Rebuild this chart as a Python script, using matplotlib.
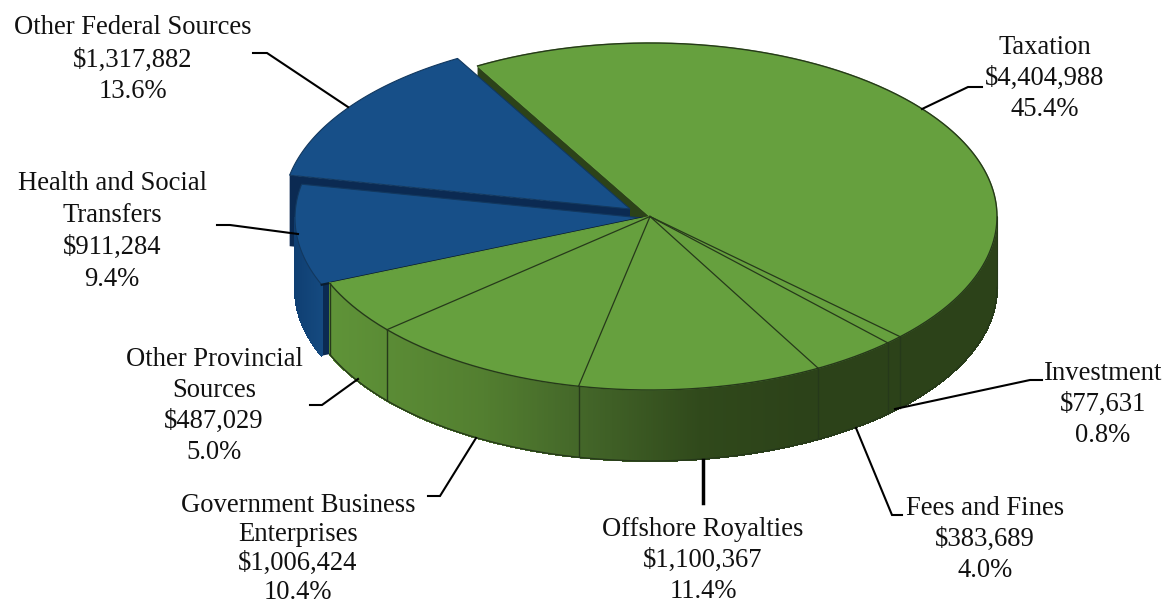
import matplotlib
matplotlib.use("Agg")
import matplotlib.pyplot as plt
import numpy as np

# revenue by source, clockwise from the top of the pie
sources = ["Taxation", "Investment", "Fees and Fines", "Offshore Royalties",
           "Government Business\nEnterprises", "Other Provincial\nSources",
           "Health and Social\nTransfers", "Other Federal Sources"]
amounts = [4404988, 77631, 383689, 1100367, 1006424, 487029, 911284, 1317882]
percents = [45.4, 0.8, 4.0, 11.4, 10.4, 5.0, 9.4, 13.6]

GREEN = "#66a03e"
BLUE = "#174f88"
NAVY = "#0b2a52"
DARK_GREEN = "#2c4219"
EDGE = "#26391a"

CX, CY = 650, 216.5
RX, RY = 347, 173.5
DEPTH = 71
START = 119.8

total = sum(amounts)
sweeps = [a / total * 360 for a in amounts]
ends = START - np.cumsum(sweeps)
starts = ends + np.array(sweeps)


def rim(cx, cy, a):
    a = np.radians(a)
    return cx + RX * np.cos(a), cy - RY * np.sin(a)


def wedge(cx, cy, a0, a1, color, z, edge=None, lw=0.8):
    t = np.linspace(a0, a1, 200)
    x, y = rim(cx, cy, t)
    ax.fill(np.r_[cx, x], np.r_[cy, y], color=color, ec=edge or color, lw=lw, zorder=z)


def cut_face(cx, cy, a, color, z):
    x, y = rim(cx, cy, a)
    ax.fill([cx, x, x, cx], [cy, y, y + DEPTH, cy + DEPTH], color=color, lw=0, zorder=z)


def green_shade(x):
    stops = [330, 480, 590, 700, 800, 1000]
    cols = np.array([matplotlib.colors.to_rgb(c) for c in
                     ["#5f9338", "#537f30", "#426428", "#30491b", "#2c4219", "#2c4219"]])
    return [float(np.interp(x, stops, cols[:, i])) for i in range(3)]


def blue_shade(x):
    c0 = np.array(matplotlib.colors.to_rgb("#0f3f72"))
    c1 = np.array(matplotlib.colors.to_rgb("#154a80"))
    return tuple(c0 + (c1 - c0) * np.clip((x - 294) / 28, 0, 1))


def side(cx, cy, a0, a1, shade, z):
    t = np.r_[np.arange(a0, a1, -0.4), a1]
    x, y = rim(cx, cy, t)
    for i in range(len(t) - 1):
        xs = [x[i], x[i + 1], x[i + 1], x[i]]
        ys = [y[i], y[i + 1], y[i + 1] + DEPTH, y[i] + DEPTH]
        c = shade((x[i] + x[i + 1]) / 2)
        ax.fill(xs, ys, color=c, ec=c, lw=0.8, antialiased=False, zorder=z)


fig = plt.figure(figsize=(11.65, 6.05), dpi=100)
ax = fig.add_axes([0, 0, 1, 1])
ax.set_xlim(0, 1165)
ax.set_ylim(605, 0)
ax.axis("off")

# blue slices are pulled out of the pie
fed_c = (630, 209)
health_c = (642, 218)

# taxation cut face shows behind the blue slice
cut_face(CX, CY, START, DARK_GREEN, 1)

cut_face(*fed_c, starts[7], NAVY, 2)
wedge(*fed_c, starts[7], ends[7], BLUE, 3, edge="#12385f")

cut_face(*health_c, starts[6], NAVY, 4)
side(*health_c, starts[6], -180, blue_shade, 4)
wedge(*health_c, starts[6], ends[6], BLUE, 5, edge="#12385f")
x, y = rim(*health_c, starts[6])
ax.plot([x, health_c[0]], [y, health_c[1]], color="#0a1c2e", lw=1.6, zorder=6)

# green body
side(CX, CY, 0, ends[5], green_shade, 7)
wedge(CX, CY, START, ends[5], GREEN, 8)

# rim and slice separators
t = np.linspace(START, ends[5], 400)
x, y = rim(CX, CY, t)
ax.plot(x, y, color=EDGE, lw=1.0, zorder=9)
t = np.linspace(0, ends[5], 300)
x, y = rim(CX, CY, t)
ax.plot(x, y + DEPTH, color=EDGE, lw=1.0, zorder=9)
x, y = rim(CX, CY, 0)
ax.plot([x, x], [y, y + DEPTH], color=EDGE, lw=0.8, zorder=9)
for a in ends[:6]:
    x, y = rim(CX, CY, a)
    if a != ends[5]:
        ax.plot([CX, x], [CY, y], color=EDGE, lw=0.9, zorder=9)
    ax.plot([x, x], [y, y + DEPTH], color=EDGE, lw=1.0, zorder=9)

# leader lines
leaders = [
    ([922, 968, 982], [109, 87, 87], 1.5),
    ([895, 1030, 1042], [409, 380, 380], 1.5),
    ([856, 892, 902], [428, 515, 515], 1.5),
    ([703, 703], [460, 503], 2.5),
    ([476, 440, 428], [438, 496, 496], 1.5),
    ([358, 322, 310], [379, 405, 405], 1.5),
    ([298, 230, 217], [234, 225, 225], 1.5),
    ([348, 267, 253], [107, 53, 53], 1.5),
]
for lx, ly, w in leaders:
    ax.plot(lx, ly, color="black", lw=w, zorder=10, solid_joinstyle="miter")

label_x = [1045, 1103, 985, 703, 298, 214, 112, 133]
label_top = [48, 374, 508.5, 530, 506, 360, 183, 28]
line_gap = [30.8, 30.8, 30.8, 30.8, 28.8, 30.8, 32, 32]
for i in range(len(sources)):
    txt = f"{sources[i]}\n${amounts[i]:,}\n{percents[i]:.1f}%"
    for j, line in enumerate(txt.split("\n")):
        ax.text(label_x[i], label_top[i] + j * line_gap[i], line, ha="center", va="center",
                family="Liberation Serif", fontsize=19.2, color="#111111", zorder=11)

fig.savefig("out.png", dpi=100)
